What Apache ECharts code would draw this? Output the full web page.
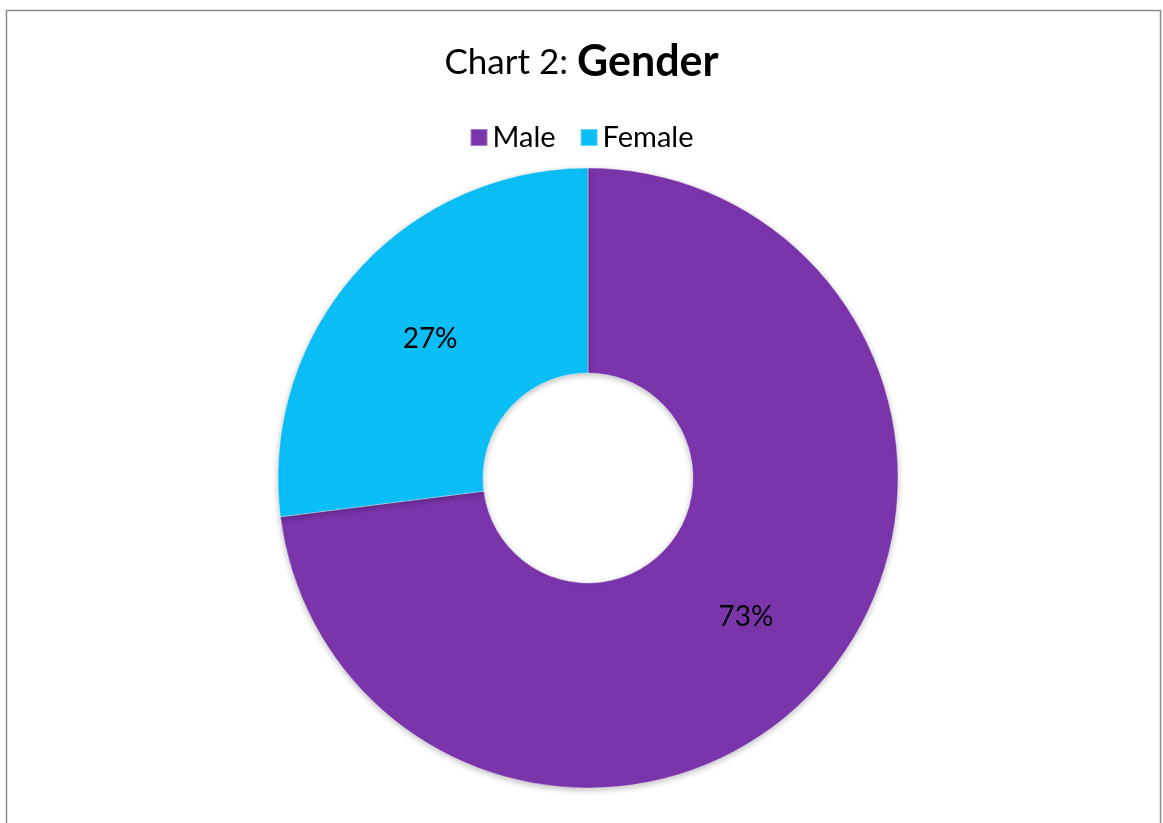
<!DOCTYPE html>
<html><head><meta charset="utf-8">
<script src="https://cdn.jsdelivr.net/npm/echarts@6/dist/echarts.min.js"></script>
<style>html,body{margin:0;padding:0;background:#fff}#c{width:1163px;height:823px}</style>
</head><body><div id="c"></div>
<script>
const categories = ['Male', 'Female'];
const values = [73, 27];
const colors = ['#7B35AB', '#0BBEF5'];

const chart = echarts.init(document.getElementById('c'));
chart.setOption({
  animation: false,
  backgroundColor: '#fff',
  graphic: [{
    type: 'rect', shape: {x: 6.5, y: 10.5, width: 1154, height: 900},
    style: {fill: 'none', stroke: '#8c8c8c', lineWidth: 1.5}, silent: true
  }],
  title: {
    left: 'center', top: 36,
    text: '{n|Chart 2: }{b|Gender}',
    textStyle: {
      rich: {
        n: {fontFamily: 'Lato', fontSize: 35, color: '#000', fontWeight: 'normal'},
        b: {fontFamily: 'Lato', fontSize: 43, color: '#000', fontWeight: 'bold'}
      }
    }
  },
  legend: {
    top: 118, left: 'center',
    itemWidth: 17, itemHeight: 17, itemGap: 24,
    icon: 'rect',
    textStyle: {fontFamily: 'Lato', fontSize: 29, color: '#000'},
    data: categories
  },
  series: [{
    type: 'pie',
    center: [588, 478],
    radius: [105, 310],
    startAngle: 90,
    clockwise: true,
    color: colors,
    itemStyle: {
      borderColor: 'rgba(255,255,255,0.35)', borderWidth: 1,
      shadowBlur: 6, shadowColor: 'rgba(0,0,0,0.25)', shadowOffsetY: 2
    },
    label: {
      show: true, position: 'inside',
      formatter: '{d}%',
      fontFamily: 'Lato', fontSize: 28, color: '#000'
    },
    labelLine: {show: false},
    data: categories.map((c, i) => ({name: c, value: values[i]}))
  }]
});
</script></body></html>
